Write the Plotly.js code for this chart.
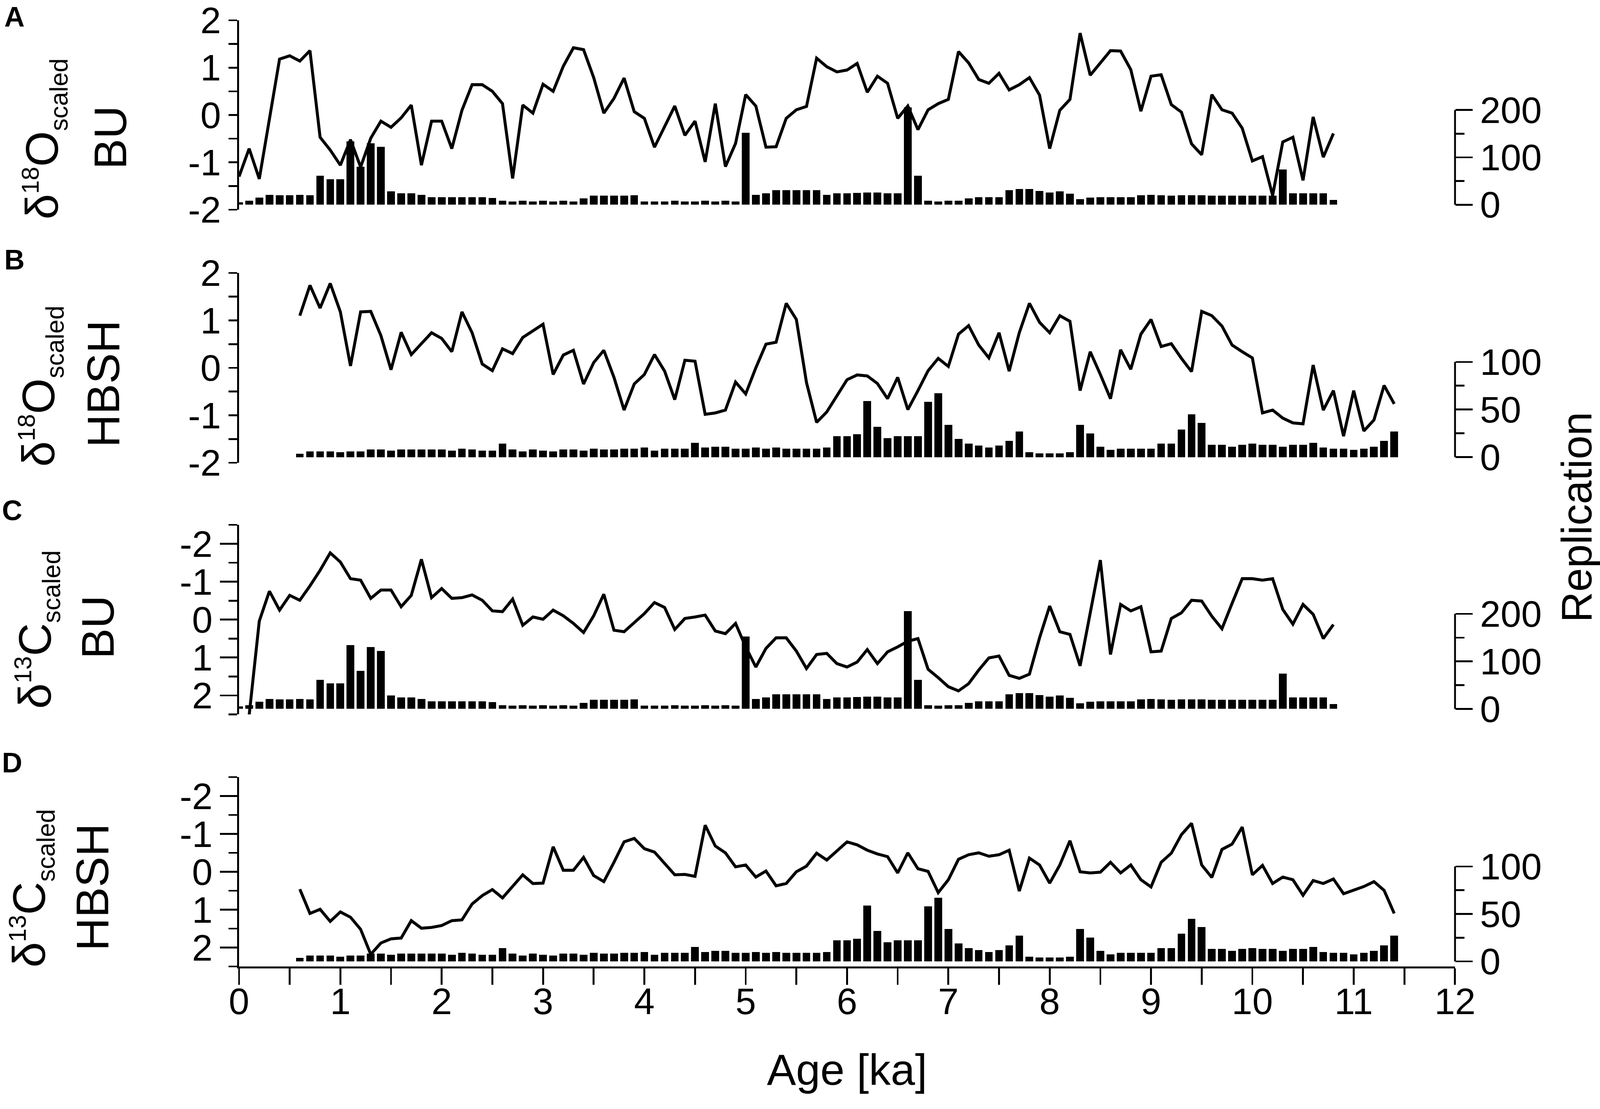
<!DOCTYPE html>
<html>
<head>
<meta charset="utf-8">
<script src="https://cdn.plot.ly/plotly-3.0.1.min.js"></script>
<style>html,body{margin:0;padding:0;background:#fff;overflow:hidden;}</style>
</head>
<body>
<div id="chart"></div>
<script>
// ---------- DATA ----------
const ageBU = [0.0,0.1,0.2,0.3,0.4,0.5,0.6,0.7,0.8,0.9,1.0,1.1,1.2,1.3,1.4,1.5,1.6,1.7,1.8,1.9,2.0,2.1,2.2,2.3,2.4,2.5,2.6,2.7,2.8,2.9,3.0,3.1,3.2,3.3,3.4,3.5,3.6,3.7,3.8,3.9,4.0,4.1,4.2,4.3,4.4,4.5,4.6,4.7,4.8,4.9,5.0,5.1,5.2,5.3,5.4,5.5,5.6,5.7,5.8,5.9,6.0,6.1,6.2,6.3,6.4,6.5,6.6,6.7,6.8,6.9,7.0,7.1,7.2,7.3,7.4,7.5,7.6,7.7,7.8,7.9,8.0,8.1,8.2,8.3,8.4,8.5,8.6,8.7,8.8,8.9,9.0,9.1,9.2,9.3,9.4,9.5,9.6,9.7,9.8,9.9,10.0,10.1,10.2,10.3,10.4,10.5,10.6,10.7,10.8];
const repBU = [5,8,15,21,20,20,21,20,61,54,54,134,80,130,122,28,24,24,21,16,16,16,16,16,16,14,8,7,8,7,8,7,8,7,13,19,19,19,19,20,7,7,7,8,7,7,8,7,8,7,152,21,24,31,31,31,31,31,21,24,24,25,26,26,24,24,206,61,8,7,8,8,13,16,16,16,31,33,33,29,26,28,23,12,15,16,16,16,16,20,21,20,19,20,20,20,19,19,19,19,19,19,19,74,24,24,24,24,10];
const d18O_BU = [-1.30,-0.71,-1.35,-0.08,1.18,1.25,1.14,1.36,-0.47,-0.74,-1.06,-0.52,-1.10,-0.49,-0.13,-0.26,-0.06,0.21,-1.06,-0.13,-0.13,-0.71,0.10,0.64,0.64,0.50,0.24,-1.34,0.21,0.04,0.65,0.50,1.03,1.42,1.38,0.79,0.04,0.35,0.78,0.07,-0.07,-0.68,-0.24,0.19,-0.43,-0.13,-0.99,0.24,-1.09,-0.60,0.43,0.19,-0.68,-0.67,-0.07,0.11,0.18,1.20,1.02,0.91,0.95,1.09,0.48,0.82,0.67,-0.07,0.19,-0.31,0.11,0.24,0.33,1.34,1.10,0.75,0.67,0.88,0.53,0.64,0.79,0.42,-0.71,0.10,0.33,1.73,0.84,1.09,1.36,1.35,0.96,0.08,0.82,0.85,0.22,0.06,-0.61,-0.84,0.43,0.11,0.04,-0.28,-0.97,-0.88,-1.70,-0.57,-0.47,-1.38,-0.04,-0.89,-0.39];
const ageBU_C = [0.1,0.2,0.3,0.4,0.5,0.6,0.7,0.8,0.9,1.0,1.1,1.2,1.3,1.4,1.5,1.6,1.7,1.8,1.9,2.0,2.1,2.2,2.3,2.4,2.5,2.6,2.7,2.8,2.9,3.0,3.1,3.2,3.3,3.4,3.5,3.6,3.7,3.8,3.9,4.0,4.1,4.2,4.3,4.4,4.5,4.6,4.7,4.8,4.9,5.0,5.1,5.2,5.3,5.4,5.5,5.6,5.7,5.8,5.9,6.0,6.1,6.2,6.3,6.4,6.5,6.6,6.7,6.8,6.9,7.0,7.1,7.2,7.3,7.4,7.5,7.6,7.7,7.8,7.9,8.0,8.1,8.2,8.3,8.4,8.5,8.6,8.7,8.8,8.9,9.0,9.1,9.2,9.3,9.4,9.5,9.6,9.7,9.8,9.9,10.0,10.1,10.2,10.3,10.4,10.5,10.6,10.7,10.8];
const d13C_BU = [2.52,0.04,-0.75,-0.25,-0.64,-0.51,-0.89,-1.30,-1.76,-1.52,-1.08,-1.04,-0.56,-0.78,-0.78,-0.34,-0.64,-1.59,-0.58,-0.82,-0.56,-0.58,-0.65,-0.51,-0.23,-0.21,-0.54,0.15,-0.07,-0.01,-0.25,-0.10,0.10,0.34,-0.10,-0.67,0.28,0.32,0.08,-0.16,-0.45,-0.32,0.26,-0.03,-0.07,-0.12,0.30,0.37,0.10,0.72,1.25,0.76,0.48,0.48,0.83,1.29,0.92,0.89,1.16,1.25,1.12,0.79,1.16,0.85,0.72,0.57,0.50,1.31,1.53,1.77,1.88,1.69,1.33,1.01,0.96,1.47,1.55,1.44,0.48,-0.36,0.32,0.39,1.22,-0.18,-1.57,0.92,-0.40,-0.23,-0.34,0.85,0.83,-0.03,-0.18,-0.51,-0.49,-0.09,0.24,-0.43,-1.08,-1.08,-1.04,-1.08,-0.27,0.12,-0.40,-0.14,0.50,0.13];
const ageHBSH = [0.6,0.7,0.8,0.9,1.0,1.1,1.2,1.3,1.4,1.5,1.6,1.7,1.8,1.9,2.0,2.1,2.2,2.3,2.4,2.5,2.6,2.7,2.8,2.9,3.0,3.1,3.2,3.3,3.4,3.5,3.6,3.7,3.8,3.9,4.0,4.1,4.2,4.3,4.4,4.5,4.6,4.7,4.8,4.9,5.0,5.1,5.2,5.3,5.4,5.5,5.6,5.7,5.8,5.9,6.0,6.1,6.2,6.3,6.4,6.5,6.6,6.7,6.8,6.9,7.0,7.1,7.2,7.3,7.4,7.5,7.6,7.7,7.8,7.9,8.0,8.1,8.2,8.3,8.4,8.5,8.6,8.7,8.8,8.9,9.0,9.1,9.2,9.3,9.4,9.5,9.6,9.7,9.8,9.9,10.0,10.1,10.2,10.3,10.4,10.5,10.6,10.7,10.8,10.9,11.0,11.1,11.2,11.3,11.4];
const repHBSH = [3.5,6,6,6,5,6,6,8,8,7,8,8,8,8,8,7,9,8,7,7,14,8,6,8,7,6,8,8,7,9,8,8,9,9,10,7,9,9,9,15,10,11,11,9,9,10,9,10,9,9,9,9,10,22,22,24,59,32,20,22,22,22,58,67,34,19,14,12,10,12,17,27,5,4,4,4,5,34,25,11,7.5,9,9,9,9,14,14,29,45,36,13,13,11,13,14,13,13,11,13,13,15,10,9,9,7.5,9,11,17,27];
const d18O_HBSH = [1.10,1.74,1.26,1.78,1.18,0.04,1.18,1.19,0.68,-0.04,0.75,0.28,0.51,0.74,0.62,0.34,1.18,0.74,0.08,-0.06,0.40,0.30,0.64,0.78,0.92,-0.14,0.27,0.37,-0.34,0.11,0.37,-0.20,-0.89,-0.34,-0.14,0.28,-0.07,-0.67,0.16,0.14,-0.98,-0.95,-0.89,-0.30,-0.55,0.00,0.50,0.54,1.36,1.02,-0.31,-1.15,-0.93,-0.59,-0.25,-0.15,-0.17,-0.33,-0.65,-0.20,-0.88,-0.48,-0.06,0.20,0.03,0.71,0.89,0.48,0.21,0.74,-0.07,0.74,1.36,0.96,0.74,1.10,0.98,-0.48,0.34,-0.14,-0.65,0.38,-0.03,0.71,1.02,0.45,0.51,0.20,-0.08,1.19,1.10,0.88,0.48,0.34,0.21,-0.95,-0.89,-1.06,-1.16,-1.18,0.06,-0.89,-0.48,-1.44,-0.48,-1.33,-1.10,-0.37,-0.76];
const d13C_HBSH = [0.46,1.10,0.99,1.31,1.06,1.20,1.52,2.18,1.88,1.77,1.75,1.29,1.49,1.47,1.42,1.29,1.27,0.85,0.63,0.47,0.69,0.39,0.08,0.31,0.30,-0.66,-0.04,-0.04,-0.38,0.10,0.26,-0.25,-0.79,-0.88,-0.61,-0.52,-0.22,0.08,0.07,0.12,-1.23,-0.68,-0.50,-0.13,-0.18,0.14,-0.02,0.37,0.31,0.00,-0.15,-0.49,-0.31,-0.54,-0.79,-0.71,-0.57,-0.47,-0.40,0.03,-0.50,-0.08,-0.01,0.55,0.21,-0.33,-0.45,-0.50,-0.41,-0.45,-0.57,0.51,-0.36,-0.18,0.30,-0.18,-0.82,0.00,0.03,0.01,-0.25,0.03,-0.18,0.21,0.40,-0.25,-0.49,-0.98,-1.28,-0.18,0.15,-0.59,-0.73,-1.18,0.08,-0.17,0.31,0.14,0.21,0.62,0.23,0.31,0.19,0.58,0.49,0.39,0.26,0.49,1.10];

const xTickVals = [0,1,2,3,4,5,6,7,8,9,10,11,12];
const xTickText = ['0','1','2','3','4','5','6','7','8','9','10','11','12'];
const isoTickVals = [-2,-1,0,1,2];
const isoTickText = ['-2','-1','0','1','2'];
const repTickVals200 = [0,100,200];
const repTickText200 = ['0','100','200'];
const repTickVals100 = [0,50,100];
const repTickText100 = ['0','50','100'];

// ---------- SIZE (fill the real viewport, keep the reference proportions) ----------
const BASE_W = 4562, BASE_H = 2840;
const W = window.innerWidth || BASE_W, H = window.innerHeight || BASE_H;
const SX = W / BASE_W, SY = H / BASE_H, SF = Math.sqrt(SX * SY);
const hx = v => v * SX;   // horizontal lengths
const vy = v => v * SY;   // vertical lengths
const f = v => v * SF;    // font sizes, stroke widths

// ---------- STYLE ----------
const FONT = 'Liberation Sans, Arial, sans-serif';
const BLK = '#000';
const LW = f(5);
const TICKFONT = {family: FONT, size: f(100), color: BLK};
const xDom = [0.14939, 0.90939];

function lineTrace(x, y, ya) {
  return {type: 'scatter', mode: 'lines', x: x, y: y, xaxis: 'x', yaxis: ya,
          line: {color: BLK, width: f(8)}, hoverinfo: 'skip', showlegend: false, cliponaxis: false};
}
function barTrace(x, y, ya) {
  return {type: 'bar', x: x, y: y, xaxis: 'x', yaxis: ya, width: 0.076,
          marker: {color: BLK, line: {width: 0}}, hoverinfo: 'skip', showlegend: false};
}

const data = [
  barTrace(ageBU, repBU, 'y2'),
  lineTrace(ageBU, d18O_BU, 'y'),
  barTrace(ageHBSH, repHBSH, 'y4'),
  lineTrace(ageHBSH, d18O_HBSH, 'y3'),
  barTrace(ageBU, repBU, 'y6'),
  lineTrace(ageBU_C, d13C_BU, 'y5'),
  barTrace(ageHBSH, repHBSH, 'y8'),
  lineTrace(ageHBSH, d13C_HBSH, 'y7')
];

function leftO(domain) {
  return {domain: domain, range: [-2, 2], anchor: 'x', side: 'left',
    showline: true, linewidth: LW, linecolor: BLK, showgrid: false, zeroline: false,
    ticks: 'outside', ticklen: hx(25), tickwidth: LW, tickcolor: BLK,
    tickmode: 'array', tickvals: isoTickVals, ticktext: isoTickText,
    minor: {tickmode: 'array', tickvals: [-1.5,-0.5,0.5,1.5], ticks: 'outside', ticklen: hx(25), tickwidth: LW, tickcolor: BLK, showgrid: false},
    tickfont: TICKFONT, ticklabelstandoff: hx(28), ticklabeloverflow: 'allow', fixedrange: true};
}
function leftC(domain) {
  return {domain: domain, range: [2.5, -2.5], anchor: 'x', side: 'left',
    showline: true, linewidth: LW, linecolor: BLK, showgrid: false, zeroline: false,
    ticks: 'outside', ticklen: hx(49), tickwidth: LW, tickcolor: BLK,
    tickmode: 'array', tickvals: isoTickVals, ticktext: isoTickText,
    minor: {tickmode: 'array', tickvals: [-2.5,-1.5,-0.5,0.5,1.5,2.5], ticks: 'outside', ticklen: hx(25), tickwidth: LW, tickcolor: BLK, showgrid: false},
    tickfont: TICKFONT, ticklabelstandoff: hx(6), ticklabeloverflow: 'allow', fixedrange: true};
}
function right(over, range, vals, text, minorVals) {
  return {overlaying: over, side: 'right', anchor: 'x', range: range,
    showline: false, showgrid: false, zeroline: false,
    ticks: 'outside', ticklen: hx(49), tickwidth: LW, tickcolor: BLK,
    tickmode: 'array', tickvals: vals, ticktext: text,
    minor: {tickmode: 'array', tickvals: minorVals, ticks: 'outside', ticklen: hx(26), tickwidth: LW, tickcolor: BLK, showgrid: false},
    tickfont: TICKFONT, ticklabelstandoff: hx(18), ticklabeloverflow: 'allow', fixedrange: true};
}

function spine(ya, top) {
  return {type: 'line', xref: 'x domain', x0: 1, x1: 1, yref: ya, y0: 0, y1: top,
          line: {color: BLK, width: LW}, layer: 'above'};
}

function ann(text, x, y, size, angle, yanchor) {
  return {text: text, xref: 'paper', yref: 'paper', x: x, y: y, xanchor: 'center', yanchor: yanchor || 'middle',
          showarrow: false, textangle: angle, font: {family: FONT, size: f(size), color: BLK}};
}
function isoLabel(base, mass) {
  return 'δ<sup><span style="font-size:' + f(66).toFixed(1) + 'px">' + mass + '</span></sup>' + base +
         '<sub><span style="font-size:' + f(68).toFixed(1) + 'px">scaled</span></sub>';
}

const layout = {
  width: W, height: H,
  margin: {l: 0, r: 0, t: 0, b: 0, pad: 0},
  paper_bgcolor: '#fff', plot_bgcolor: 'rgba(0,0,0,0)',
  font: {family: FONT, color: BLK},
  showlegend: false,
  bargap: 0,
  xaxis: {domain: xDom, range: [0, 12], anchor: 'y7', side: 'bottom',
    showline: true, linewidth: LW, linecolor: BLK, showgrid: false, zeroline: false,
    ticks: 'outside', ticklen: vy(42), tickwidth: LW, tickcolor: BLK,
    tickmode: 'array', tickvals: xTickVals, ticktext: xTickText,
    minor: {dtick: 0.5, ticks: 'outside', ticklen: vy(42), tickwidth: LW, tickcolor: BLK, showgrid: false},
    tickfont: TICKFONT, ticklabelstandoff: vy(-38), ticklabeloverflow: 'allow',
    title: {text: 'Age [ka]', font: {family: FONT, size: f(118), color: BLK}, standoff: vy(85)},
    fixedrange: true},
  yaxis: leftO([0.81092, 0.98169]),
  yaxis2: right('y', [-10.6, 389.6], repTickVals200, repTickText200, [50, 150]),
  yaxis3: leftO([0.58275, 0.75387]),
  yaxis4: right('y3', [-5.9, 193.5], repTickVals100, repTickText100, [25, 75]),
  yaxis5: leftC([0.35581, 0.52676]),
  yaxis6: right('y5', [-11.6, 387.5], repTickVals200, repTickText200, [50, 150]),
  yaxis7: leftC([0.12852, 0.29930]),
  yaxis8: right('y7', [-5.4, 194.3], repTickVals100, repTickText100, [25, 75]),
  shapes: [spine('y2', 200), spine('y4', 100), spine('y6', 200), spine('y8', 100)],
  annotations: [
    ann('<b>A</b>', 0.00899, 0.9995, 76, 0, 'top'),
    ann('<b>B</b>', 0.00899, 0.76585, 76, 0),
    ann('<b>C</b>', 0.00767, 0.53979, 76, 0),
    ann('<b>D</b>', 0.00767, 0.31232, 76, 0),
    ann(isoLabel('O', '18'), 0.02806, 0.87465, 124, -90),
    ann('BU', 0.06905, 0.87606, 124, -90),
    ann(isoLabel('O', '18'), 0.02543, 0.65176, 124, -90),
    ann('HBSH', 0.06445, 0.65387, 124, -90),
    ann(isoLabel('C', '13'), 0.02324, 0.43239, 124, -90),
    ann('BU', 0.06116, 0.43451, 124, -90),
    ann(isoLabel('C', '13'), 0.01973, 0.19894, 124, -90),
    ann('HBSH', 0.05765, 0.20000, 124, -90),
    ann('Replication', 0.98532, 0.53380, 115, -90)
  ]
};

Plotly.newPlot('chart', data, layout, {displayModeBar: false, staticPlot: true});
</script>
</body>
</html>
